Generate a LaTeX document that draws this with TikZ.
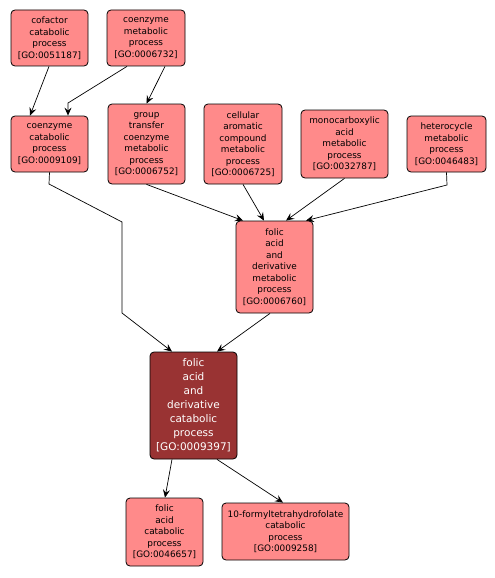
\documentclass[tikz,border=0pt]{standalone}
\usepackage{fontspec}
\setmainfont{DejaVu Sans}
\usetikzlibrary{arrows.meta, positioning}
\definecolor{cTerm}{HTML}{FF8A8A}
\definecolor{cMain}{HTML}{993333}

\begin{document}
\begin{tikzpicture}[x=1pt, y=-1pt,
    term/.style={draw=black, line width=0.8pt, fill=cTerm, rounded corners=4pt, align=center, inner sep=0pt,
                 font=\fontsize{8.9}{11.5}\selectfont},
    mainterm/.style={term, fill=cMain, text=white, font=\fontsize{10.5}{14}\selectfont},
    edge/.style={-{Stealth[length=8pt, width=7pt, inset=3pt]}, line width=0.7pt, black}]
    \useasboundingbox (0,0) rectangle (495,578);
    % top rows
    \node[term, minimum width=77pt, minimum height=56pt] (cofcat) at (49.5,38) {cofactor\\catabolic\\process\\{[GO:0051187]}};
    \node[term, minimum width=78pt, minimum height=56pt] (coemet) at (146,38) {coenzyme\\metabolic\\process\\{[GO:0006732]}};
    \node[term, minimum width=77pt, minimum height=56pt] (coecat) at (49.5,144) {coenzyme\\catabolic\\process\\{[GO:0009109]}};
    \node[term, minimum width=77pt, minimum height=80pt] (grptr) at (146.5,144) {group\\transfer\\coenzyme\\metabolic\\process\\{[GO:0006752]}};
    \node[term, minimum width=78pt, minimum height=80pt] (cellar) at (243,144) {cellular\\aromatic\\compound\\metabolic\\process\\{[GO:0006725]}};
    \node[term, minimum width=87pt, minimum height=68pt] (monocarb) at (344.5,144) {monocarboxylic\\acid\\metabolic\\process\\{[GO:0032787]}};
    \node[term, minimum width=79pt, minimum height=56pt] (hetero) at (446.5,144) {heterocycle\\metabolic\\process\\{[GO:0046483]}};
    % middle
    \node[term, minimum width=77pt, minimum height=92pt] (folmet) at (274.5,267) {folic\\acid\\and\\derivative\\metabolic\\process\\{[GO:0006760]}};
    \node[mainterm, minimum width=87pt, minimum height=107pt] (folcat) at (193.5,405.5) {folic\\acid\\and\\derivative\\catabolic\\process\\{[GO:0009397]}};
    % bottom
    \node[term, minimum width=77pt, minimum height=68pt] (folacat) at (164.5,532) {folic\\acid\\catabolic\\process\\{[GO:0046657]}};
    \node[term, minimum width=127pt, minimum height=57pt] (formyl) at (285.5,531.5) {10-formyltetrahydrofolate\\catabolic\\process\\{[GO:0009258]}};
    % bends
    \coordinate (b1) at (68,103);
    \coordinate (b2) at (49,184);
    \coordinate (b3) at (122,222);
    \coordinate (b4) at (122,313);
    \coordinate (b5) at (447,185);
    % edges
    \draw[edge] ([xshift=-0.5pt]cofcat.south) -- ([xshift=-19.5pt]coecat.north);
    \draw[edge] ([xshift=-19pt]coemet.south) -- (b1) -- ([xshift=18.5pt]coecat.north);
    \draw[edge] ([xshift=19pt]coemet.south) -- (grptr.north);
    \draw[edge] (coecat.south) -- (b2) -- (b3) -- (b4) -- ([xshift=-21.5pt]folcat.north);
    \draw[edge] (grptr.south) -- ([xshift=-31.5pt]folmet.north);
    \draw[edge] (cellar.south) -- ([xshift=-10.5pt]folmet.north);
    \draw[edge] (monocarb.south) -- ([xshift=11.5pt]folmet.north);
    \draw[edge] (hetero.south) -- (b5) -- ([xshift=31.5pt]folmet.north);
    \draw[edge] ([xshift=-4.5pt]folmet.south) -- ([xshift=23.5pt]folcat.north);
    \draw[edge] ([xshift=-21.5pt]folcat.south) -- ([xshift=0.5pt]folacat.north);
    \draw[edge] ([xshift=23.5pt]folcat.south) -- ([xshift=-2.5pt]formyl.north);
\end{tikzpicture}
\end{document}
